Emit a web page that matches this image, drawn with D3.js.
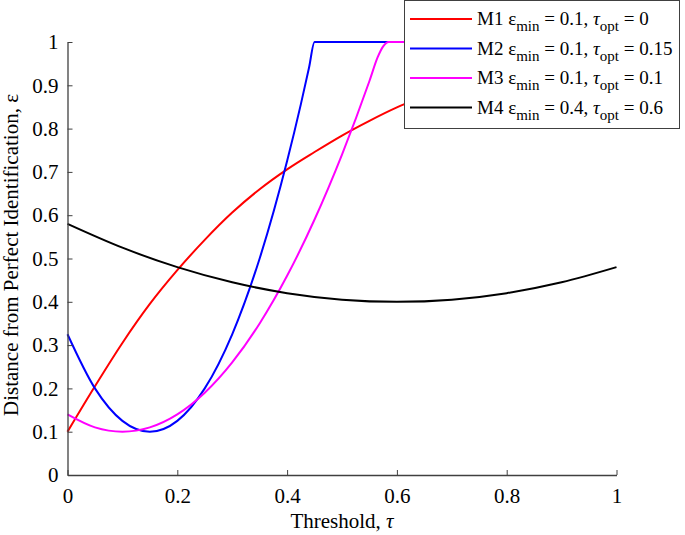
<!DOCTYPE html>
<html lang='en'>
<head>
  <meta charset='UTF-8'>
  <title>Distance from Perfect Identification vs Threshold</title>
  <style>
  body { margin: 0; background: #fff; }
  text { font-family: 'Liberation Serif', 'Times New Roman', serif; fill: #000; }
  .axis text { font-family: 'Liberation Serif', 'Times New Roman', serif; font-size: 21px; }
  .label { font-size: 21px; }
  .legend text { font-size: 19px; }
  .axis path, .axis line { stroke: #404040; }
  </style>
  <script src='https://d3js.org/d3.v7.min.js'></script>
</head>
<body>
  <script>

  // values
  var tauM1 = [0, 0.05, 0.1, 0.15, 0.2, 0.25, 0.3, 0.35, 0.4, 0.45, 0.5, 0.55, 0.6, 0.65, 0.7, 0.75, 0.8, 0.85, 0.9, 0.95, 1];
  var epsM1 = [0.1, 0.205, 0.305, 0.395, 0.473, 0.543, 0.606, 0.66, 0.706, 0.746, 0.784, 0.818, 0.849, 0.875, 0.9, 0.92, 0.94, 0.955, 0.97, 0.985, 1];

  var tauM2 = [0, 0.05, 0.1, 0.15, 0.2, 0.25, 0.3, 0.35, 0.4, 0.425, 0.44, 0.45, 0.5, 0.6, 0.7, 0.8, 0.9, 1];
  var epsM2 = [0.325, 0.2, 0.125, 0.1, 0.125, 0.2, 0.325, 0.5, 0.725, 0.856, 0.941, 1, 1, 1, 1, 1, 1, 1];

  var tauM3 = [0, 0.05, 0.1, 0.15, 0.2, 0.25, 0.3, 0.35, 0.4, 0.45, 0.5, 0.55, 0.565, 0.575, 0.585, 0.6, 0.7, 0.8, 0.9, 1];
  var epsM3 = [0.14, 0.11, 0.1, 0.11, 0.14, 0.19, 0.26, 0.35, 0.46, 0.59, 0.74, 0.91, 0.965, 0.99, 1, 1, 1, 1, 1, 1];

  var tauM4 = [0, 0.1, 0.2, 0.3, 0.4, 0.5, 0.6, 0.7, 0.8, 0.9, 1];
  var epsM4 = [0.58, 0.525, 0.48, 0.445, 0.42, 0.405, 0.4, 0.405, 0.42, 0.445, 0.48];

  var xTicks = [0, 0.2, 0.4, 0.6, 0.8, 1];
  var yTicks = [0, 0.1, 0.2, 0.3, 0.4, 0.5, 0.6, 0.7, 0.8, 0.9, 1];

  var series = [
    { name: 'M1', eps: '0.1', opt: '0', color: '#ff0000', tau: tauM1, vals: epsM1 },
    { name: 'M2', eps: '0.1', opt: '0.15', color: '#0000ff', tau: tauM2, vals: epsM2 },
    { name: 'M3', eps: '0.1', opt: '0.1', color: '#ff00ff', tau: tauM3, vals: epsM3 },
    { name: 'M4', eps: '0.4', opt: '0.6', color: '#000000', tau: tauM4, vals: epsM4 }
  ];

  var svgWidth = 685;
  var svgHeight = 535;
  var margin = { top: 42, right: 68.5, bottom: 60, left: 67.5 };
  var width = svgWidth - margin.left - margin.right;
  var height = 433;

  var svg = d3.select('body').append('svg')
    .attr('width', svgWidth)
    .attr('height', svgHeight);

  var g = svg.append('g').attr('transform', 'translate(' + margin.left + ',' + margin.top + ')');

  var x = d3.scaleLinear().domain([0, 1]).range([0, width]);
  var y = d3.scaleLinear().domain([0, 1]).range([height, 0]);

  // lines

  var line = d3.line()
    .x(function (d) { return x(d[0]); })
    .y(function (d) { return y(d[1]); })
    .curve(d3.curveMonotoneX);

  series.forEach(function (s) {
    g.append('path')
      .datum(d3.zip(s.tau, s.vals))
      .attr('fill', 'none')
      .attr('stroke', s.color)
      .attr('stroke-width', 2)
      .attr('d', line);
  });

  // axes, ticks inside

  var xAxis = g.append('g')
    .attr('class', 'axis')
    .attr('transform', 'translate(0,' + height + ')')
    .call(d3.axisBottom(x).tickValues(xTicks).tickSize(-5).tickSizeOuter(0).tickPadding(11)
      .tickFormat(function (d) { return String(d); }));
  xAxis.selectAll('.tick text').attr('dy', '0.8em');

  g.append('g')
    .attr('class', 'axis')
    .call(d3.axisLeft(y).tickValues(yTicks).tickSize(-5).tickSizeOuter(0).tickPadding(9)
      .tickFormat(function (d) { return String(d); }));

  g.selectAll('.axis .domain').attr('stroke-width', 1.3);

  // labels

  var xl = svg.append('text')
    .attr('class', 'label')
    .attr('text-anchor', 'middle')
    .attr('x', margin.left + width / 2)
    .attr('y', 528);
  xl.append('tspan').text('Threshold, ');
  xl.append('tspan').attr('font-style', 'italic').text('τ');

  svg.append('text')
    .attr('class', 'label')
    .attr('text-anchor', 'middle')
    .attr('transform', 'translate(18,255) rotate(-90)')
    .text('Distance from Perfect Identification, ε');

  // legend

  var legend = svg.append('g').attr('class', 'legend');

  legend.append('rect')
    .attr('x', 404.5)
    .attr('y', 0.5)
    .attr('width', 275)
    .attr('height', 128)
    .attr('fill', '#fff')
    .attr('stroke', '#404040')
    .attr('stroke-width', 1);

  series.forEach(function (s, i) {
    var cy = 19 + i * 29.5;
    legend.append('line')
      .attr('x1', 410).attr('x2', 472)
      .attr('y1', cy).attr('y2', cy)
      .attr('stroke', s.color)
      .attr('stroke-width', 2);
    var t = legend.append('text')
      .attr('x', 477)
      .attr('y', cy + 6);
    t.append('tspan').text(s.name + ' ε');
    t.append('tspan').attr('font-size', '15px').attr('dy', 6).text('min');
    t.append('tspan').attr('dy', -6).text(' = ' + s.eps + ', ');
    t.append('tspan').attr('font-style', 'italic').text('τ');
    t.append('tspan').attr('font-size', '15px').attr('dy', 6).text('opt');
    t.append('tspan').attr('dy', -6).text(' = ' + s.opt);
  });

  </script>
</body>
</html>
